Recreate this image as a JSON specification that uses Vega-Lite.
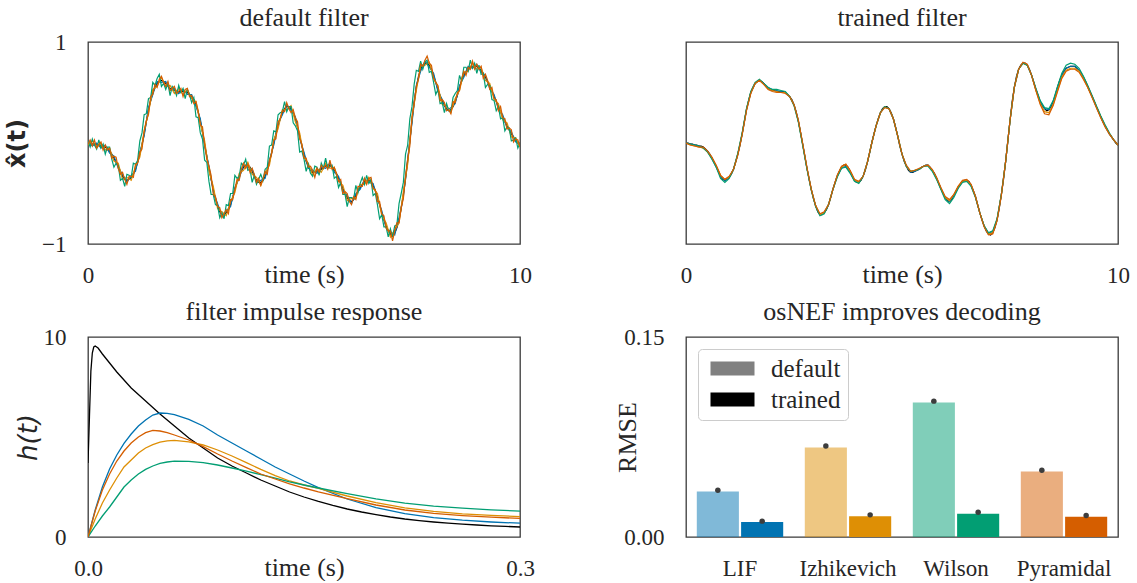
{
"$schema": "https://vega.github.io/schema/vega-lite/v6.json",
"padding": {"left": 4, "top": 4, "right": 5, "bottom": 0},
"background": "white",
"config": {
 "font": "Liberation Serif",
 "view": {"stroke": "#3a3a3a", "strokeWidth": 1.3},
 "axis": {"domain": false, "ticks": false, "grid": false, "labelFont": "Liberation Serif", "labelFontSize": 23, "labelColor": "#262626", "titleFont": "Liberation Serif", "titleFontSize": 26, "titleFontWeight": "normal", "titleColor": "#262626", "labelFlush": false, "labelOverlap": false},
 "axisX": {"labelPadding": 38, "labelBaseline": "alphabetic", "titleY": 38, "titleBaseline": "alphabetic", "labelAngle": 0},
 "axisY": {"labelPadding": 22, "titleBaseline": "middle"},
 "title": {"font": "Liberation Serif", "fontSize": 26, "fontWeight": "normal", "color": "#262626", "baseline": "alphabetic", "offset": 11, "frame": "group"}
},
"datasets": {
"def": [
{"t":0,"k":0.00,"g":0.02,"r":-0.01},{"t":0.05,"k":0.00,"g":-0.04,"r":0.03},{"t":0.1,"k":-0.01,"g":0.04,"r":-0.03},{"t":0.15,"k":-0.01,"g":-0.02,"r":0.03},{"t":0.2,"k":-0.02,"g":-0.06,"r":-0.05},{"t":0.25,"k":-0.02,"g":0.03,"r":-0.01},{"t":0.3,"k":-0.03,"g":-0.05,"r":0.01},{"t":0.35,"k":-0.03,"g":-0.01,"r":-0.07},{"t":0.4,"k":-0.04,"g":-0.11,"r":-0.02},{"t":0.45,"k":-0.06,"g":-0.04,"r":-0.07},
{"t":0.5,"k":-0.08,"g":-0.04,"r":-0.05},{"t":0.55,"k":-0.11,"g":-0.16,"r":-0.15},{"t":0.6,"k":-0.15,"g":-0.24,"r":-0.13},{"t":0.65,"k":-0.19,"g":-0.20,"r":-0.14},{"t":0.7,"k":-0.23,"g":-0.22,"r":-0.25},{"t":0.75,"k":-0.28,"g":-0.37,"r":-0.31},{"t":0.8,"k":-0.33,"g":-0.35,"r":-0.29},{"t":0.85,"k":-0.36,"g":-0.43,"r":-0.36},{"t":0.9,"k":-0.37,"g":-0.31,"r":-0.41},{"t":0.95,"k":-0.36,"g":-0.32,"r":-0.33},
{"t":1,"k":-0.34,"g":-0.34,"r":-0.33},{"t":1.05,"k":-0.31,"g":-0.20,"r":-0.34},{"t":1.1,"k":-0.26,"g":-0.21,"r":-0.21},{"t":1.15,"k":-0.19,"g":-0.17,"r":-0.20},{"t":1.2,"k":-0.11,"g":0.02,"r":-0.09},{"t":1.25,"k":-0.02,"g":0.10,"r":-0.06},{"t":1.3,"k":0.09,"g":0.28,"r":0.12},{"t":1.35,"k":0.21,"g":0.29,"r":0.22},{"t":1.4,"k":0.33,"g":0.44,"r":0.28},{"t":1.45,"k":0.42,"g":0.45,"r":0.46},
{"t":1.5,"k":0.50,"g":0.60,"r":0.48},{"t":1.55,"k":0.55,"g":0.57,"r":0.58},{"t":1.6,"k":0.59,"g":0.64,"r":0.55},{"t":1.65,"k":0.61,"g":0.68,"r":0.63},{"t":1.7,"k":0.62,"g":0.56,"r":0.66},{"t":1.75,"k":0.61,"g":0.59,"r":0.60},{"t":1.8,"k":0.59,"g":0.53,"r":0.56},{"t":1.85,"k":0.56,"g":0.59,"r":0.61},{"t":1.9,"k":0.54,"g":0.47,"r":0.52},{"t":1.95,"k":0.53,"g":0.56,"r":0.54},
{"t":2,"k":0.52,"g":0.53,"r":0.56},{"t":2.05,"k":0.52,"g":0.47,"r":0.49},{"t":2.1,"k":0.51,"g":0.57,"r":0.51},{"t":2.15,"k":0.51,"g":0.50,"r":0.54},{"t":2.2,"k":0.51,"g":0.54,"r":0.46},{"t":2.25,"k":0.51,"g":0.44,"r":0.53},{"t":2.3,"k":0.50,"g":0.53,"r":0.54},{"t":2.35,"k":0.48,"g":0.48,"r":0.46},{"t":2.4,"k":0.46,"g":0.40,"r":0.47},{"t":2.45,"k":0.43,"g":0.45,"r":0.39},
{"t":2.5,"k":0.38,"g":0.26,"r":0.41},{"t":2.55,"k":0.31,"g":0.25,"r":0.32},{"t":2.6,"k":0.22,"g":0.10,"r":0.18},{"t":2.65,"k":0.11,"g":0.04,"r":0.16},{"t":2.7,"k":-0.01,"g":-0.17,"r":-0.02},{"t":2.75,"k":-0.13,"g":-0.19,"r":-0.16},{"t":2.8,"k":-0.25,"g":-0.38,"r":-0.23},{"t":2.85,"k":-0.36,"g":-0.51,"r":-0.32},{"t":2.9,"k":-0.46,"g":-0.51,"r":-0.51},{"t":2.95,"k":-0.55,"g":-0.61,"r":-0.53},
{"t":3,"k":-0.62,"g":-0.62,"r":-0.63},{"t":3.05,"k":-0.68,"g":-0.74,"r":-0.64},{"t":3.1,"k":-0.71,"g":-0.69,"r":-0.74},{"t":3.15,"k":-0.71,"g":-0.75,"r":-0.70},{"t":3.2,"k":-0.69,"g":-0.61,"r":-0.66},{"t":3.25,"k":-0.66,"g":-0.62,"r":-0.70},{"t":3.3,"k":-0.61,"g":-0.50,"r":-0.56},{"t":3.35,"k":-0.54,"g":-0.50,"r":-0.56},{"t":3.4,"k":-0.46,"g":-0.32,"r":-0.46},{"t":3.45,"k":-0.39,"g":-0.35,"r":-0.36},
{"t":3.5,"k":-0.33,"g":-0.33,"r":-0.37},{"t":3.55,"k":-0.28,"g":-0.20,"r":-0.26},{"t":3.6,"k":-0.24,"g":-0.22,"r":-0.20},{"t":3.65,"k":-0.22,"g":-0.16,"r":-0.25},{"t":3.7,"k":-0.22,"g":-0.27,"r":-0.21},{"t":3.75,"k":-0.24,"g":-0.26,"r":-0.29},{"t":3.8,"k":-0.28,"g":-0.39,"r":-0.25},{"t":3.85,"k":-0.33,"g":-0.32,"r":-0.31},{"t":3.9,"k":-0.37,"g":-0.41,"r":-0.39},{"t":3.95,"k":-0.39,"g":-0.36,"r":-0.35},
{"t":4,"k":-0.39,"g":-0.31,"r":-0.42},{"t":4.05,"k":-0.37,"g":-0.37,"r":-0.36},{"t":4.1,"k":-0.33,"g":-0.26,"r":-0.28},{"t":4.15,"k":-0.27,"g":-0.24,"r":-0.31},{"t":4.2,"k":-0.19,"g":-0.03,"r":-0.17},{"t":4.25,"k":-0.10,"g":-0.02,"r":-0.11},{"t":4.3,"k":0.00,"g":0.12,"r":0.03},{"t":4.35,"k":0.09,"g":0.11,"r":0.04},{"t":4.4,"k":0.17,"g":0.28,"r":0.21},{"t":4.45,"k":0.24,"g":0.30,"r":0.24},
{"t":4.5,"k":0.30,"g":0.31,"r":0.32},{"t":4.55,"k":0.34,"g":0.41,"r":0.31},{"t":4.6,"k":0.36,"g":0.31,"r":0.40},{"t":4.65,"k":0.36,"g":0.36,"r":0.34},{"t":4.7,"k":0.34,"g":0.36,"r":0.30},{"t":4.75,"k":0.30,"g":0.20,"r":0.33},{"t":4.8,"k":0.24,"g":0.17,"r":0.25},{"t":4.85,"k":0.16,"g":0.12,"r":0.21},{"t":4.9,"k":0.07,"g":-0.09,"r":0.04},{"t":4.95,"k":-0.03,"g":-0.08,"r":-0.01},
{"t":5,"k":-0.11,"g":-0.16,"r":-0.15},{"t":5.05,"k":-0.18,"g":-0.28,"r":-0.15},{"t":5.1,"k":-0.23,"g":-0.21,"r":-0.24},{"t":5.15,"k":-0.27,"g":-0.30,"r":-0.23},{"t":5.2,"k":-0.29,"g":-0.33,"r":-0.27},{"t":5.25,"k":-0.29,"g":-0.23,"r":-0.34},{"t":5.3,"k":-0.28,"g":-0.24,"r":-0.25},{"t":5.35,"k":-0.27,"g":-0.32,"r":-0.29},{"t":5.4,"k":-0.26,"g":-0.20,"r":-0.22},{"t":5.45,"k":-0.24,"g":-0.25,"r":-0.25},
{"t":5.5,"k":-0.23,"g":-0.15,"r":-0.22},{"t":5.55,"k":-0.22,"g":-0.25,"r":-0.26},{"t":5.6,"k":-0.22,"g":-0.23,"r":-0.17},{"t":5.65,"k":-0.24,"g":-0.22,"r":-0.26},{"t":5.7,"k":-0.27,"g":-0.35,"r":-0.24},{"t":5.75,"k":-0.30,"g":-0.33,"r":-0.30},{"t":5.8,"k":-0.35,"g":-0.44,"r":-0.38},{"t":5.85,"k":-0.40,"g":-0.39,"r":-0.36},{"t":5.9,"k":-0.45,"g":-0.51,"r":-0.50},{"t":5.95,"k":-0.50,"g":-0.51,"r":-0.48},
{"t":6,"k":-0.54,"g":-0.63,"r":-0.50},{"t":6.05,"k":-0.57,"g":-0.54,"r":-0.58},{"t":6.1,"k":-0.58,"g":-0.54,"r":-0.61},{"t":6.15,"k":-0.56,"g":-0.55,"r":-0.53},{"t":6.2,"k":-0.52,"g":-0.42,"r":-0.56},{"t":6.25,"k":-0.48,"g":-0.49,"r":-0.43},{"t":6.3,"k":-0.44,"g":-0.40,"r":-0.43},{"t":6.35,"k":-0.41,"g":-0.34,"r":-0.43},{"t":6.4,"k":-0.38,"g":-0.41,"r":-0.35},{"t":6.45,"k":-0.37,"g":-0.32,"r":-0.41},
{"t":6.5,"k":-0.37,"g":-0.40,"r":-0.35},{"t":6.55,"k":-0.38,"g":-0.36,"r":-0.34},{"t":6.6,"k":-0.42,"g":-0.52,"r":-0.45},{"t":6.65,"k":-0.47,"g":-0.50,"r":-0.46},{"t":6.7,"k":-0.53,"g":-0.61,"r":-0.58},{"t":6.75,"k":-0.61,"g":-0.75,"r":-0.58},{"t":6.8,"k":-0.69,"g":-0.71,"r":-0.70},{"t":6.85,"k":-0.76,"g":-0.83,"r":-0.72},{"t":6.9,"k":-0.82,"g":-0.83,"r":-0.84},{"t":6.95,"k":-0.87,"g":-0.93,"r":-0.87},
{"t":7,"k":-0.90,"g":-0.85,"r":-0.87},{"t":7.05,"k":-0.91,"g":-0.93,"r":-0.97},{"t":7.1,"k":-0.89,"g":-0.82,"r":-0.87},{"t":7.15,"k":-0.84,"g":-0.81,"r":-0.79},{"t":7.2,"k":-0.76,"g":-0.60,"r":-0.79},{"t":7.25,"k":-0.65,"g":-0.50,"r":-0.64},{"t":7.3,"k":-0.51,"g":-0.39,"r":-0.55},{"t":7.35,"k":-0.36,"g":-0.11,"r":-0.33},{"t":7.4,"k":-0.18,"g":-0.02,"r":-0.16},{"t":7.45,"k":0.02,"g":0.24,"r":-0.03},
{"t":7.5,"k":0.22,"g":0.36,"r":0.26},{"t":7.55,"k":0.41,"g":0.58,"r":0.39},{"t":7.6,"k":0.55,"g":0.72,"r":0.56},{"t":7.65,"k":0.66,"g":0.71,"r":0.63},{"t":7.7,"k":0.73,"g":0.81,"r":0.78},{"t":7.75,"k":0.77,"g":0.73,"r":0.76},{"t":7.8,"k":0.79,"g":0.80,"r":0.82},{"t":7.85,"k":0.79,"g":0.82,"r":0.86},{"t":7.9,"k":0.77,"g":0.70,"r":0.79},{"t":7.95,"k":0.73,"g":0.71,"r":0.77},
{"t":8,"k":0.67,"g":0.60,"r":0.64},{"t":8.05,"k":0.60,"g":0.48,"r":0.60},{"t":8.1,"k":0.53,"g":0.53,"r":0.57},{"t":8.15,"k":0.47,"g":0.39,"r":0.42},{"t":8.2,"k":0.41,"g":0.40,"r":0.43},{"t":8.25,"k":0.37,"g":0.30,"r":0.40},{"t":8.3,"k":0.34,"g":0.39,"r":0.32},{"t":8.35,"k":0.32,"g":0.32,"r":0.33},{"t":8.4,"k":0.33,"g":0.31,"r":0.29},{"t":8.45,"k":0.36,"g":0.45,"r":0.41},
{"t":8.5,"k":0.41,"g":0.49,"r":0.40},{"t":8.55,"k":0.47,"g":0.52,"r":0.50},{"t":8.6,"k":0.55,"g":0.67,"r":0.52},{"t":8.65,"k":0.62,"g":0.61,"r":0.64},{"t":8.7,"k":0.67,"g":0.75,"r":0.71},{"t":8.75,"k":0.71,"g":0.75,"r":0.67},{"t":8.8,"k":0.74,"g":0.71,"r":0.75},{"t":8.85,"k":0.75,"g":0.82,"r":0.73},{"t":8.9,"k":0.76,"g":0.74,"r":0.81},{"t":8.95,"k":0.76,"g":0.79,"r":0.73},
{"t":9,"k":0.76,"g":0.69,"r":0.78},{"t":9.05,"k":0.74,"g":0.77,"r":0.73},{"t":9.1,"k":0.72,"g":0.68,"r":0.76},{"t":9.15,"k":0.69,"g":0.69,"r":0.64},{"t":9.2,"k":0.65,"g":0.55,"r":0.68},{"t":9.25,"k":0.61,"g":0.58,"r":0.62},{"t":9.3,"k":0.56,"g":0.57,"r":0.53},{"t":9.35,"k":0.51,"g":0.43,"r":0.55},{"t":9.4,"k":0.46,"g":0.42,"r":0.44},{"t":9.45,"k":0.41,"g":0.32,"r":0.43},
{"t":9.5,"k":0.36,"g":0.36,"r":0.32},{"t":9.55,"k":0.31,"g":0.24,"r":0.36},{"t":9.6,"k":0.26,"g":0.25,"r":0.25},{"t":9.65,"k":0.21,"g":0.12,"r":0.24},{"t":9.7,"k":0.17,"g":0.16,"r":0.14},{"t":9.75,"k":0.13,"g":0.15,"r":0.15},{"t":9.8,"k":0.09,"g":0.02,"r":0.13},{"t":9.85,"k":0.06,"g":0.03,"r":0.01},{"t":9.9,"k":0.03,"g":0.05,"r":0.04},{"t":9.95,"k":0.00,"g":-0.05,"r":0.03},
{"t":10,"k":-0.02,"g":0.00,"r":-0.04}
],
"def2": [
{"t":0,"b":0.01,"o":-0.02},{"t":0.1,"b":-0.03,"o":0.02},{"t":0.2,"b":0.00,"o":-0.05},{"t":0.3,"b":-0.05,"o":0.00},{"t":0.4,"b":-0.02,"o":-0.07},{"t":0.5,"b":-0.10,"o":-0.05},{"t":0.6,"b":-0.13,"o":-0.18},{"t":0.7,"b":-0.25,"o":-0.20},{"t":0.8,"b":-0.31,"o":-0.36},{"t":0.9,"b":-0.39,"o":-0.34},
{"t":1,"b":-0.32,"o":-0.37},{"t":1.1,"b":-0.28,"o":-0.23},{"t":1.2,"b":-0.09,"o":-0.14},{"t":1.3,"b":0.07,"o":0.12},{"t":1.4,"b":0.35,"o":0.30},{"t":1.5,"b":0.48,"o":0.53},{"t":1.6,"b":0.61,"o":0.56},{"t":1.7,"b":0.60,"o":0.65},{"t":1.8,"b":0.61,"o":0.56},{"t":1.9,"b":0.52,"o":0.57},
{"t":2,"b":0.54,"o":0.49},{"t":2.1,"b":0.49,"o":0.54},{"t":2.2,"b":0.53,"o":0.48},{"t":2.3,"b":0.48,"o":0.53},{"t":2.4,"b":0.48,"o":0.44},{"t":2.5,"b":0.36,"o":0.41},{"t":2.6,"b":0.24,"o":0.19},{"t":2.7,"b":-0.03,"o":0.02},{"t":2.8,"b":-0.23,"o":-0.28},{"t":2.9,"b":-0.48,"o":-0.43},
{"t":3,"b":-0.60,"o":-0.65},{"t":3.1,"b":-0.73,"o":-0.68},{"t":3.2,"b":-0.67,"o":-0.72},{"t":3.3,"b":-0.63,"o":-0.58},{"t":3.4,"b":-0.44,"o":-0.49},{"t":3.5,"b":-0.35,"o":-0.30},{"t":3.6,"b":-0.22,"o":-0.27},{"t":3.7,"b":-0.24,"o":-0.19},{"t":3.8,"b":-0.26,"o":-0.31},{"t":3.9,"b":-0.39,"o":-0.34},
{"t":4,"b":-0.37,"o":-0.42},{"t":4.1,"b":-0.35,"o":-0.30},{"t":4.2,"b":-0.17,"o":-0.22},{"t":4.3,"b":-0.02,"o":0.03},{"t":4.4,"b":0.19,"o":0.14},{"t":4.5,"b":0.28,"o":0.33},{"t":4.6,"b":0.38,"o":0.33},{"t":4.7,"b":0.32,"o":0.37},{"t":4.8,"b":0.26,"o":0.21},{"t":4.9,"b":0.05,"o":0.10},
{"t":5,"b":-0.09,"o":-0.14},{"t":5.1,"b":-0.25,"o":-0.20},{"t":5.2,"b":-0.27,"o":-0.32},{"t":5.3,"b":-0.30,"o":-0.25},{"t":5.4,"b":-0.24,"o":-0.29},{"t":5.5,"b":-0.25,"o":-0.20},{"t":5.6,"b":-0.20,"o":-0.25},{"t":5.7,"b":-0.29,"o":-0.24},{"t":5.8,"b":-0.33,"o":-0.38},{"t":5.9,"b":-0.47,"o":-0.42},
{"t":6,"b":-0.52,"o":-0.57},{"t":6.1,"b":-0.60,"o":-0.55},{"t":6.2,"b":-0.50,"o":-0.55},{"t":6.3,"b":-0.46,"o":-0.41},{"t":6.4,"b":-0.36,"o":-0.41},{"t":6.5,"b":-0.39,"o":-0.34},{"t":6.6,"b":-0.40,"o":-0.45},{"t":6.7,"b":-0.55,"o":-0.50},{"t":6.8,"b":-0.67,"o":-0.72},{"t":6.9,"b":-0.84,"o":-0.79},
{"t":7,"b":-0.88,"o":-0.93},{"t":7.1,"b":-0.91,"o":-0.86},{"t":7.2,"b":-0.74,"o":-0.79},{"t":7.3,"b":-0.53,"o":-0.48},{"t":7.4,"b":-0.16,"o":-0.21},{"t":7.5,"b":0.20,"o":0.25},{"t":7.6,"b":0.57,"o":0.52},{"t":7.7,"b":0.71,"o":0.76},{"t":7.8,"b":0.81,"o":0.77},{"t":7.9,"b":0.75,"o":0.80},
{"t":8,"b":0.69,"o":0.64},{"t":8.1,"b":0.51,"o":0.56},{"t":8.2,"b":0.43,"o":0.38},{"t":8.3,"b":0.32,"o":0.37},{"t":8.4,"b":0.35,"o":0.30},{"t":8.5,"b":0.39,"o":0.44},{"t":8.6,"b":0.57,"o":0.52},{"t":8.7,"b":0.65,"o":0.70},{"t":8.8,"b":0.76,"o":0.71},{"t":8.9,"b":0.74,"o":0.79},
{"t":9,"b":0.78,"o":0.73},{"t":9.1,"b":0.70,"o":0.75},{"t":9.2,"b":0.67,"o":0.62},{"t":9.3,"b":0.54,"o":0.59},{"t":9.4,"b":0.48,"o":0.43},{"t":9.5,"b":0.34,"o":0.39},{"t":9.6,"b":0.28,"o":0.23},{"t":9.7,"b":0.15,"o":0.20},{"t":9.8,"b":0.11,"o":0.06},{"t":9.9,"b":0.01,"o":0.05},
{"t":10,"b":0.00,"o":-0.04}
],
"tr": [
{"t":0,"b":0.00,"o":0.00,"g":0.00,"r":0.00},{"t":0.1,"b":-0.01,"o":-0.02,"g":-0.01,"r":-0.02},{"t":0.2,"b":-0.02,"o":-0.03,"g":-0.02,"r":-0.03},{"t":0.3,"b":-0.03,"o":-0.04,"g":-0.03,"r":-0.04},{"t":0.4,"b":-0.05,"o":-0.05,"g":-0.05,"r":-0.04},{"t":0.5,"b":-0.08,"o":-0.09,"g":-0.09,"r":-0.08},{"t":0.6,"b":-0.15,"o":-0.15,"g":-0.16,"r":-0.14},{"t":0.7,"b":-0.24,"o":-0.23,"g":-0.24,"r":-0.22},{"t":0.8,"b":-0.33,"o":-0.32,"g":-0.35,"r":-0.32},{"t":0.9,"b":-0.37,"o":-0.36,"g":-0.39,"r":-0.36},
{"t":1,"b":-0.34,"o":-0.34,"g":-0.35,"r":-0.33},{"t":1.1,"b":-0.26,"o":-0.26,"g":-0.26,"r":-0.26},{"t":1.2,"b":-0.11,"o":-0.11,"g":-0.10,"r":-0.12},{"t":1.3,"b":0.09,"o":0.09,"g":0.10,"r":0.08},{"t":1.4,"b":0.33,"o":0.33,"g":0.34,"r":0.32},{"t":1.5,"b":0.50,"o":0.50,"g":0.51,"r":0.49},{"t":1.6,"b":0.59,"o":0.59,"g":0.60,"r":0.59},{"t":1.7,"b":0.62,"o":0.62,"g":0.63,"r":0.62},{"t":1.8,"b":0.59,"o":0.58,"g":0.59,"r":0.58},{"t":1.9,"b":0.55,"o":0.54,"g":0.55,"r":0.53},
{"t":2,"b":0.53,"o":0.52,"g":0.53,"r":0.51},{"t":2.1,"b":0.52,"o":0.51,"g":0.53,"r":0.50},{"t":2.2,"b":0.51,"o":0.50,"g":0.52,"r":0.50},{"t":2.3,"b":0.50,"o":0.50,"g":0.51,"r":0.49},{"t":2.4,"b":0.46,"o":0.46,"g":0.46,"r":0.46},{"t":2.5,"b":0.38,"o":0.38,"g":0.37,"r":0.38},{"t":2.6,"b":0.22,"o":0.22,"g":0.21,"r":0.23},{"t":2.7,"b":-0.01,"o":-0.01,"g":-0.02,"r":0.00},{"t":2.8,"b":-0.25,"o":-0.25,"g":-0.26,"r":-0.24},{"t":2.9,"b":-0.46,"o":-0.46,"g":-0.47,"r":-0.46},
{"t":3,"b":-0.62,"o":-0.62,"g":-0.63,"r":-0.62},{"t":3.1,"b":-0.71,"o":-0.71,"g":-0.72,"r":-0.70},{"t":3.2,"b":-0.69,"o":-0.69,"g":-0.70,"r":-0.68},{"t":3.3,"b":-0.61,"o":-0.61,"g":-0.61,"r":-0.61},{"t":3.4,"b":-0.46,"o":-0.46,"g":-0.46,"r":-0.46},{"t":3.5,"b":-0.33,"o":-0.33,"g":-0.34,"r":-0.32},{"t":3.6,"b":-0.25,"o":-0.24,"g":-0.25,"r":-0.23},{"t":3.7,"b":-0.23,"o":-0.21,"g":-0.24,"r":-0.21},{"t":3.8,"b":-0.29,"o":-0.28,"g":-0.30,"r":-0.27},{"t":3.9,"b":-0.37,"o":-0.37,"g":-0.38,"r":-0.36},
{"t":4,"b":-0.39,"o":-0.39,"g":-0.40,"r":-0.38},{"t":4.1,"b":-0.33,"o":-0.33,"g":-0.33,"r":-0.33},{"t":4.2,"b":-0.19,"o":-0.19,"g":-0.19,"r":-0.19},{"t":4.3,"b":0.00,"o":0.00,"g":0.00,"r":0.00},{"t":4.4,"b":0.17,"o":0.17,"g":0.17,"r":0.17},{"t":4.5,"b":0.30,"o":0.30,"g":0.30,"r":0.30},{"t":4.6,"b":0.36,"o":0.36,"g":0.36,"r":0.35},{"t":4.7,"b":0.34,"o":0.34,"g":0.34,"r":0.34},{"t":4.8,"b":0.24,"o":0.24,"g":0.24,"r":0.24},{"t":4.9,"b":0.07,"o":0.07,"g":0.07,"r":0.07},
{"t":5,"b":-0.11,"o":-0.11,"g":-0.11,"r":-0.11},{"t":5.1,"b":-0.23,"o":-0.23,"g":-0.23,"r":-0.22},{"t":5.2,"b":-0.29,"o":-0.28,"g":-0.28,"r":-0.28},{"t":5.3,"b":-0.28,"o":-0.27,"g":-0.27,"r":-0.27},{"t":5.4,"b":-0.26,"o":-0.26,"g":-0.26,"r":-0.25},{"t":5.5,"b":-0.23,"o":-0.23,"g":-0.23,"r":-0.23},{"t":5.6,"b":-0.22,"o":-0.22,"g":-0.23,"r":-0.22},{"t":5.7,"b":-0.27,"o":-0.27,"g":-0.28,"r":-0.26},{"t":5.8,"b":-0.35,"o":-0.35,"g":-0.36,"r":-0.34},{"t":5.9,"b":-0.45,"o":-0.45,"g":-0.46,"r":-0.44},
{"t":6,"b":-0.54,"o":-0.54,"g":-0.56,"r":-0.53},{"t":6.1,"b":-0.58,"o":-0.57,"g":-0.60,"r":-0.56},{"t":6.2,"b":-0.52,"o":-0.51,"g":-0.54,"r":-0.51},{"t":6.3,"b":-0.44,"o":-0.43,"g":-0.45,"r":-0.43},{"t":6.4,"b":-0.38,"o":-0.38,"g":-0.39,"r":-0.37},{"t":6.5,"b":-0.37,"o":-0.37,"g":-0.38,"r":-0.36},{"t":6.6,"b":-0.42,"o":-0.42,"g":-0.43,"r":-0.41},{"t":6.7,"b":-0.53,"o":-0.53,"g":-0.54,"r":-0.53},{"t":6.8,"b":-0.69,"o":-0.69,"g":-0.69,"r":-0.69},{"t":6.9,"b":-0.82,"o":-0.82,"g":-0.82,"r":-0.83},
{"t":7,"b":-0.89,"o":-0.90,"g":-0.89,"r":-0.91},{"t":7.1,"b":-0.88,"o":-0.89,"g":-0.87,"r":-0.90},{"t":7.2,"b":-0.76,"o":-0.76,"g":-0.75,"r":-0.77},{"t":7.3,"b":-0.51,"o":-0.51,"g":-0.51,"r":-0.52},{"t":7.4,"b":-0.18,"o":-0.18,"g":-0.18,"r":-0.18},{"t":7.5,"b":0.22,"o":0.22,"g":0.22,"r":0.22},{"t":7.6,"b":0.55,"o":0.55,"g":0.55,"r":0.55},{"t":7.7,"b":0.73,"o":0.73,"g":0.73,"r":0.73},{"t":7.8,"b":0.79,"o":0.79,"g":0.79,"r":0.80},{"t":7.9,"b":0.77,"o":0.77,"g":0.77,"r":0.78},
{"t":8,"b":0.67,"o":0.67,"g":0.67,"r":0.67},{"t":8.1,"b":0.53,"o":0.52,"g":0.54,"r":0.52},{"t":8.2,"b":0.41,"o":0.39,"g":0.42,"r":0.38},{"t":8.3,"b":0.34,"o":0.31,"g":0.35,"r":0.29},{"t":8.4,"b":0.33,"o":0.30,"g":0.34,"r":0.28},{"t":8.5,"b":0.41,"o":0.38,"g":0.42,"r":0.37},{"t":8.6,"b":0.55,"o":0.52,"g":0.56,"r":0.51},{"t":8.7,"b":0.67,"o":0.65,"g":0.69,"r":0.64},{"t":8.8,"b":0.74,"o":0.72,"g":0.77,"r":0.71},{"t":8.9,"b":0.76,"o":0.74,"g":0.79,"r":0.73},
{"t":9,"b":0.76,"o":0.74,"g":0.78,"r":0.73},{"t":9.1,"b":0.72,"o":0.71,"g":0.74,"r":0.70},{"t":9.2,"b":0.65,"o":0.64,"g":0.66,"r":0.63},{"t":9.3,"b":0.56,"o":0.55,"g":0.57,"r":0.55},{"t":9.4,"b":0.46,"o":0.46,"g":0.47,"r":0.45},{"t":9.5,"b":0.36,"o":0.36,"g":0.37,"r":0.35},{"t":9.6,"b":0.26,"o":0.26,"g":0.27,"r":0.25},{"t":9.7,"b":0.17,"o":0.17,"g":0.18,"r":0.16},{"t":9.8,"b":0.09,"o":0.09,"g":0.10,"r":0.09},{"t":9.9,"b":0.03,"o":0.03,"g":0.03,"r":0.03},
{"t":10,"b":-0.02,"o":-0.02,"g":-0.02,"r":-0.02}
],
"impk": [
{"t":0,"k":3.7},{"t":0.001,"k":6.0},{"t":0.002,"k":8.3},{"t":0.003,"k":9.2},{"t":0.004,"k":9.5},{"t":0.005,"k":9.55},{"t":0.007,"k":9.45},{"t":0.01,"k":9.15},{"t":0.015,"k":8.7},{"t":0.02,"k":8.25},{"t":0.03,"k":7.45},{"t":0.04,"k":6.8},{"t":0.05,"k":6.15},{"t":0.06,"k":5.55},{"t":0.07,"k":4.95},{"t":0.08,"k":4.45},{"t":0.09,"k":3.95},{"t":0.1,"k":3.55},{"t":0.11,"k":3.2},{"t":0.12,"k":2.85},{"t":0.13,"k":2.55},{"t":0.14,"k":2.25},{"t":0.15,"k":2.0},{"t":0.16,"k":1.78},{"t":0.17,"k":1.58},{"t":0.18,"k":1.4},{"t":0.19,"k":1.25},{"t":0.2,"k":1.12},{"t":0.21,"k":1.0},{"t":0.22,"k":0.9},{"t":0.23,"k":0.82},{"t":0.24,"k":0.75},{"t":0.25,"k":0.69},{"t":0.26,"k":0.64},{"t":0.27,"k":0.6},{"t":0.28,"k":0.56},{"t":0.29,"k":0.53},{"t":0.3,"k":0.5}
],
"imp": [
{"t":0,"b":0,"o":0,"g":0,"r":0},{"t":0.005,"b":1.35,"o":0.9,"g":0.55,"r":1.3},{"t":0.01,"b":2.5,"o":1.7,"g":1.05,"r":2.35},{"t":0.015,"b":3.4,"o":2.35,"g":1.5,"r":3.15},{"t":0.02,"b":4.1,"o":2.95,"g":2.0,"r":3.8},{"t":0.025,"b":4.68,"o":3.5,"g":2.5,"r":4.3},{"t":0.03,"b":5.15,"o":3.85,"g":2.85,"r":4.7},{"t":0.035,"b":5.55,"o":4.2,"g":3.15,"r":5.0},{"t":0.04,"b":5.85,"o":4.45,"g":3.38,"r":5.22},{"t":0.045,"b":6.1,"o":4.62,"g":3.55,"r":5.33},{"t":0.05,"b":6.2,"o":4.74,"g":3.68,"r":5.3},{"t":0.055,"b":6.18,"o":4.81,"g":3.75,"r":5.22},{"t":0.06,"b":6.12,"o":4.83,"g":3.79,"r":5.1},{"t":0.07,"b":5.88,"o":4.76,"g":3.78,"r":4.85},{"t":0.08,"b":5.55,"o":4.6,"g":3.72,"r":4.52},{"t":0.09,"b":5.1,"o":4.35,"g":3.6,"r":4.15},{"t":0.1,"b":4.7,"o":4.05,"g":3.45,"r":3.8},{"t":0.11,"b":4.3,"o":3.72,"g":3.29,"r":3.47},{"t":0.12,"b":3.9,"o":3.38,"g":3.12,"r":3.15},{"t":0.13,"b":3.5,"o":3.07,"g":2.94,"r":2.9},{"t":0.14,"b":3.15,"o":2.8,"g":2.76,"r":2.66},{"t":0.15,"b":2.8,"o":2.6,"g":2.6,"r":2.45},{"t":0.16,"b":2.47,"o":2.43,"g":2.45,"r":2.26},{"t":0.18,"b":1.9,"o":2.05,"g":2.17,"r":1.92},{"t":0.2,"b":1.47,"o":1.72,"g":1.91,"r":1.6},{"t":0.22,"b":1.17,"o":1.46,"g":1.69,"r":1.35},{"t":0.24,"b":0.97,"o":1.28,"g":1.54,"r":1.18},{"t":0.26,"b":0.84,"o":1.16,"g":1.44,"r":1.07},{"t":0.28,"b":0.75,"o":1.08,"g":1.36,"r":0.99},{"t":0.3,"b":0.69,"o":1.02,"g":1.29,"r":0.93}
],
"bars": [
{"neuron":"LIF","filter":"default","rmse":0.0342,"ci":0.0350},
{"neuron":"LIF","filter":"trained","rmse":0.0112,"ci":0.0119},
{"neuron":"Izhikevich","filter":"default","rmse":0.0672,"ci":0.0682},
{"neuron":"Izhikevich","filter":"trained","rmse":0.0156,"ci":0.0166},
{"neuron":"Wilson","filter":"default","rmse":0.1009,"ci":0.1019},
{"neuron":"Wilson","filter":"trained","rmse":0.0174,"ci":0.0186},
{"neuron":"Pyramidal","filter":"default","rmse":0.0491,"ci":0.0501},
{"neuron":"Pyramidal","filter":"trained","rmse":0.0151,"ci":0.0161}
]
},
"columns": 2,
"spacing": {"row": 93, "column": 166},
"bounds": "flush",
"resolve": {"legend": {"color": "independent"}},
"concat": [
{
 "width": 432, "height": 202,
 "title": {"text": "default filter", "offset": 0},
 "encoding": {"x": {"field": "t", "type": "quantitative", "title": "time (s)", "scale": {"domain": [0, 10], "nice": false, "zero": false}, "axis": {"values": [0, 10], "format": "d"}}},
 "layer": [
  {"data": {"name": "def"}, "mark": {"type": "line", "color": "#000000", "strokeWidth": 1.2, "clip": true},
   "encoding": {"y": {"field": "k", "type": "quantitative", "title": "x\u0302(t)", "scale": {"domain": [-1, 1], "nice": false, "zero": false}, "axis": {"values": [-1, 1], "format": "d", "titleFont": "DejaVu Sans", "titleFontWeight": "bold", "titleFontSize": 24, "titleX": -71}}}},
  {"data": {"name": "def2"}, "mark": {"type": "line", "color": "#0173b2", "strokeWidth": 1.2, "clip": true},
   "encoding": {"y": {"field": "b", "type": "quantitative", "title": "x\u0302(t)"}}},
  {"data": {"name": "def2"}, "mark": {"type": "line", "color": "#de8f05", "strokeWidth": 1.2, "clip": true},
   "encoding": {"y": {"field": "o", "type": "quantitative", "title": "x\u0302(t)"}}},
  {"data": {"name": "def"}, "mark": {"type": "line", "color": "#029e73", "strokeWidth": 1.2, "clip": true},
   "encoding": {"y": {"field": "g", "type": "quantitative", "title": "x\u0302(t)"}}},
  {"data": {"name": "def"}, "mark": {"type": "line", "color": "#d55e00", "strokeWidth": 1.2, "clip": true},
   "encoding": {"y": {"field": "r", "type": "quantitative", "title": "x\u0302(t)"}}}
 ]
},
{
 "width": 432, "height": 202,
 "title": {"text": "trained filter", "offset": 11},
 "encoding": {"x": {"field": "t", "type": "quantitative", "title": "time (s)", "scale": {"domain": [0, 10], "nice": false, "zero": false}, "axis": {"values": [0, 10], "format": "d"}}},
 "layer": [
  {"data": {"name": "def"}, "mark": {"type": "line", "color": "#000000", "strokeWidth": 1.2, "clip": true},
   "encoding": {"y": {"field": "k", "type": "quantitative", "scale": {"domain": [-1, 1], "nice": false, "zero": false}, "axis": null}}},
  {"data": {"name": "tr"}, "mark": {"type": "line", "color": "#0173b2", "strokeWidth": 1.2, "clip": true},
   "encoding": {"y": {"field": "b", "type": "quantitative", "axis": null}}},
  {"data": {"name": "tr"}, "mark": {"type": "line", "color": "#de8f05", "strokeWidth": 1.2, "clip": true},
   "encoding": {"y": {"field": "o", "type": "quantitative", "axis": null}}},
  {"data": {"name": "tr"}, "mark": {"type": "line", "color": "#029e73", "strokeWidth": 1.2, "clip": true},
   "encoding": {"y": {"field": "g", "type": "quantitative", "axis": null}}},
  {"data": {"name": "tr"}, "mark": {"type": "line", "color": "#d55e00", "strokeWidth": 1.2, "clip": true},
   "encoding": {"y": {"field": "r", "type": "quantitative", "axis": null}}}
 ]
},
{
 "width": 432, "height": 200,
 "title": {"text": "filter impulse response", "offset": 1},
 "encoding": {"x": {"field": "t", "type": "quantitative", "title": "time (s)", "scale": {"domain": [0, 0.3], "nice": false, "zero": false}, "axis": {"values": [0, 0.3], "format": ".1f"}}},
 "layer": [
  {"data": {"name": "impk"}, "mark": {"type": "line", "color": "#000000", "strokeWidth": 1.3, "clip": true},
   "encoding": {"y": {"field": "k", "type": "quantitative", "title": "h(t)", "scale": {"domain": [0, 10], "nice": false}, "axis": {"values": [0, 10], "format": "d", "titleFont": "DejaVu Sans", "titleFontStyle": "italic", "titleFontSize": 26, "titleX": -60}}}},
  {"data": {"name": "imp"}, "mark": {"type": "line", "color": "#0173b2", "strokeWidth": 1.3, "clip": true},
   "encoding": {"y": {"field": "b", "type": "quantitative", "title": "h(t)"}}},
  {"data": {"name": "imp"}, "mark": {"type": "line", "color": "#de8f05", "strokeWidth": 1.3, "clip": true},
   "encoding": {"y": {"field": "o", "type": "quantitative", "title": "h(t)"}}},
  {"data": {"name": "imp"}, "mark": {"type": "line", "color": "#029e73", "strokeWidth": 1.3, "clip": true},
   "encoding": {"y": {"field": "g", "type": "quantitative", "title": "h(t)"}}},
  {"data": {"name": "imp"}, "mark": {"type": "line", "color": "#d55e00", "strokeWidth": 1.3, "clip": true},
   "encoding": {"y": {"field": "r", "type": "quantitative", "title": "h(t)"}}}
 ]
},
{
 "width": 432, "height": 200,
 "title": {"text": "osNEF improves decoding", "offset": 1},
 "data": {"name": "bars"},
 "encoding": {
  "x": {"field": "neuron", "type": "nominal", "title": null, "scale": {"domain": ["LIF", "Izhikevich", "Wilson", "Pyramidal"], "paddingInner": 0.2, "paddingOuter": 0.1}, "axis": {"labelAngle": 0}},
  "xOffset": {"field": "filter", "type": "nominal", "scale": {"domain": ["default", "trained"], "paddingInner": 0.05, "paddingOuter": 0}},
  "y": {"field": "rmse", "type": "quantitative", "title": "RMSE", "scale": {"domain": [0, 0.15], "nice": false}, "axis": {"values": [0, 0.15], "format": ".2f", "titleX": -59}}
 },
 "layer": [
  {"mark": {"type": "bar"},
   "encoding": {
    "fill": {"field": "neuron", "type": "nominal", "scale": {"domain": ["LIF", "Izhikevich", "Wilson", "Pyramidal"], "range": ["#0173b2", "#de8f05", "#029e73", "#d55e00"]}, "legend": null},
    "fillOpacity": {"field": "filter", "type": "ordinal", "scale": {"domain": ["default", "trained"], "range": [0.5, 1]}, "legend": null}
   }},
  {"mark": {"type": "bar", "opacity": 0},
   "encoding": {
    "color": {"field": "filter", "type": "nominal", "scale": {"domain": ["default", "trained"], "range": ["#808080", "#000000"]},
     "legend": {"title": null, "orient": "top-left", "offset": 12, "padding": 7, "strokeColor": "#cccccc", "fillColor": "#ffffff", "cornerRadius": 4, "symbolType": "M-2,-0.64H2V0.64H-2Z", "symbolSize": 484, "symbolOffset": 15, "symbolOpacity": 1, "symbolStrokeWidth": 0, "labelFont": "Liberation Serif", "labelFontSize": 25, "labelOffset": 26, "rowPadding": 5, "labelColor": "#262626"}}
   }},
  {"mark": {"type": "point", "filled": true, "color": "#3d3d3d", "size": 30, "opacity": 1},
   "encoding": {"y": {"field": "ci", "type": "quantitative", "title": "RMSE"}}}
 ]
}
]
}
